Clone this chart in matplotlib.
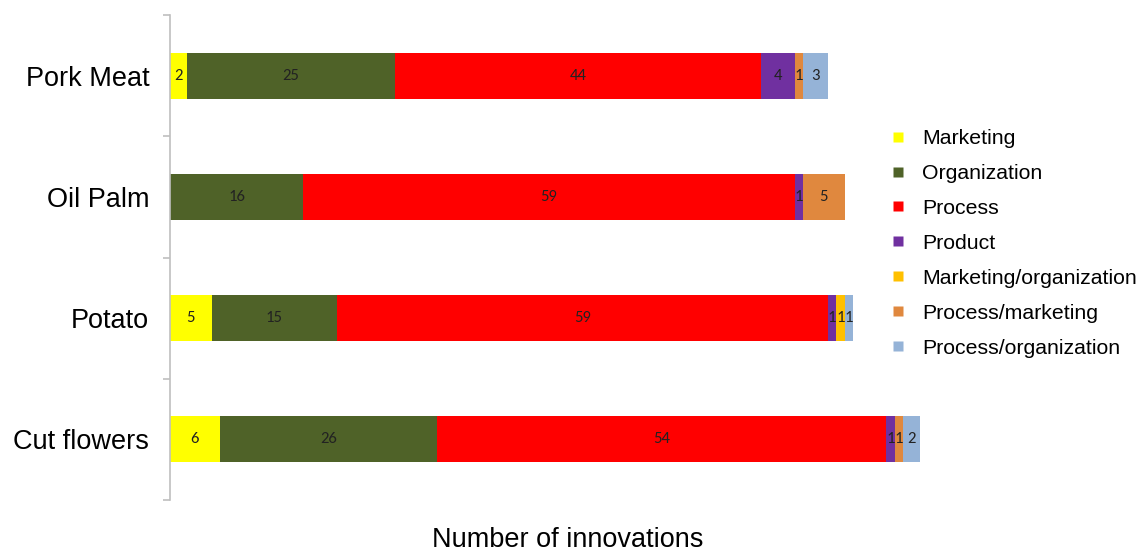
import matplotlib
matplotlib.use("Agg")
import matplotlib.pyplot as plt
from matplotlib.lines import Line2D
import numpy as np

plt.rcParams['font.family'] = ['Liberation Sans', 'DejaVu Sans']

categories = ["Pork Meat", "Oil Palm", "Potato", "Cut flowers"]
series_names = ["Marketing", "Organization", "Process", "Product",
                "Marketing/organization", "Process/marketing", "Process/organization"]
marketing = [2, 0, 5, 6]
organization = [25, 16, 15, 26]
process = [44, 59, 59, 54]
product = [4, 1, 1, 1]
marketing_org = [0, 0, 1, 0]
process_marketing = [1, 5, 0, 1]
process_org = [3, 0, 1, 2]
series = [marketing, organization, process, product, marketing_org, process_marketing, process_org]
colors = ["#FFFF00", "#4F6228", "#FF0000", "#7030A0", "#FFC000", "#E0883E", "#95B3D7"]

W, H = 1140, 553
fig = plt.figure(figsize=(W / 100, H / 100), dpi=100)
x0, x1 = 170, 930
y_top, y_bot = 15, 500
ax = fig.add_axes([x0 / W, 1 - y_bot / H, (x1 - x0) / W, (y_bot - y_top) / H])
scale = 8.33
ax.set_xlim(0, (x1 - x0) / scale)
ax.set_ylim(3.5, -0.5)

ypos = np.arange(len(categories))
left = np.zeros(len(categories))
for vals, c in zip(series, colors):
    vals = np.array(vals, dtype=float)
    ax.barh(ypos, vals, left=left, height=0.38, color=c, edgecolor='none', clip_on=False)
    for yi, v, l in zip(ypos, vals, left):
        if v > 0:
            ax.text(l + v / 2, yi, f"{int(v)}", ha='center', va='center',
                    fontsize=12, color='#222222', family=['Carlito', 'Liberation Sans', 'DejaVu Sans'])
    left += vals

for s in ['top', 'right', 'bottom']:
    ax.spines[s].set_visible(False)
ax.spines['left'].set_color('#BFBFBF')
ax.spines['left'].set_linewidth(1.2)
ax.set_xticks([])
ax.set_yticks(ypos)
ax.set_yticklabels(categories, fontsize=19.5)
ax.tick_params(axis='y', which='major', length=0, pad=15)
ax.set_yticks(np.arange(-0.5, 4.0, 1.0), minor=True)
ax.tick_params(axis='y', which='minor', length=5, color='#BFBFBF', width=1.2)

fig.text(568 / W, 1 - 540 / H, "Number of innovations", ha='center', va='center', fontsize=19.5)

handles = [Line2D([], [], marker='s', linestyle='none', markersize=7.5,
                  markerfacecolor=c, markeredgecolor='none') for c in colors]
leg = fig.legend(handles, series_names, loc='upper left',
                 bbox_to_anchor=(889 / W, 1 - 129 / H), frameon=False,
                 fontsize=15.3, labelspacing=0.75, handlelength=0.8, handletextpad=0.75,
                 borderpad=0, borderaxespad=0)

fig.savefig("out.png", dpi=100)
